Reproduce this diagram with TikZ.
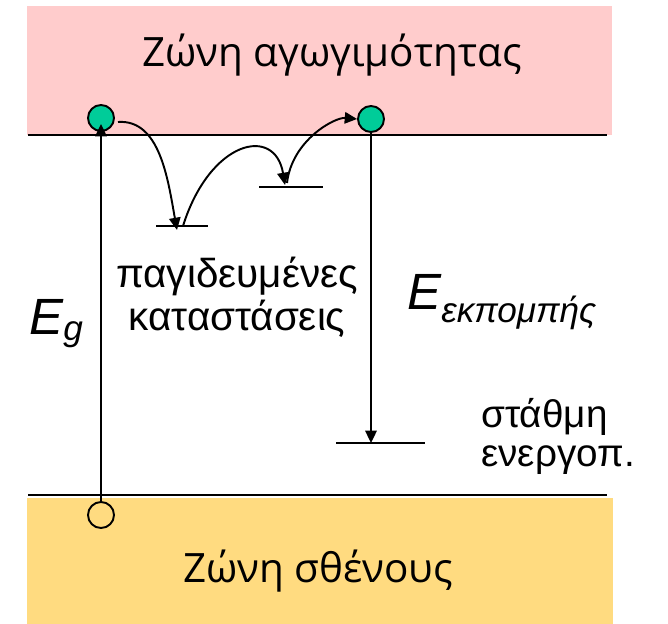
\documentclass[tikz,border=0pt]{standalone}
\usepackage{fontspec}
\setmainfont{Liberation Sans}
\newfontfamily\bandfont{Open Sans}
\usetikzlibrary{arrows.meta}

\definecolor{condpink}{RGB}{255,204,204}
\definecolor{valyellow}{RGB}{255,219,128}
\definecolor{elgreen}{RGB}{0,204,153}

\tikzset{
  edge/.style={line width=1.1pt},
  jump/.style={line width=1.1pt, -{Triangle[length=7pt,width=6.5pt]}},
  carrier/.style={circle, draw, line width=1.1pt, minimum size=0.52cm, inner sep=0pt},
  label/.style={inner sep=0pt, font=\fontsize{23}{24.4}\selectfont},
  bandlabel/.style={inner sep=0pt, anchor=base, font=\bandfont\fontsize{23}{27}\selectfont}
}

\begin{document}
\begin{tikzpicture}[x=0.02cm, y=-0.02cm]
    \useasboundingbox (0,0) rectangle (668,624);
    % zones
    \fill[condpink] (27,6) rectangle (612,135);
    \fill[valyellow] (27,498) rectangle (613,624);
    \draw[edge] (28,135) -- (607,135);
    \draw[edge] (28,495) -- (607,495);
    \node[bandlabel] (cband) at (332,67) {Ζώνη αγωγιμότητας};
    \node[bandlabel] (vband) at (318,582) {Ζώνη σθένους};
    % carriers
    \node[carrier, fill=elgreen] (el) at (101,118) {};
    \node[carrier, fill=elgreen] (em) at (371,119) {};
    \node[carrier] (hole) at (101,515) {};
    % levels
    \coordinate (trapA1) at (156,226);  \coordinate (trapA2) at (208,226);
    \coordinate (trapB1) at (259,187);  \coordinate (trapB2) at (323,187);
    \coordinate (act1) at (336,443);    \coordinate (act2) at (425,443);
    \draw[edge] (trapA1) -- (trapA2);
    \draw[edge] (trapB1) -- (trapB2);
    \draw[edge] (act1) -- (act2);
    % transitions
    \coordinate (egtip) at (101,124);
    \coordinate (actlev) at (371,443);
    \coordinate (out1) at (118,122);   \coordinate (in1) at (177,230);
    \coordinate (out2) at (183,226);   \coordinate (in2) at (285,185);
    \coordinate (out3) at (287,183);
    \draw[jump] (hole.north) -- (egtip);
    \draw[jump] (em.south) -- (actlev);
    \draw[jump] (out1) .. controls +(42,-3) and +(-9,-50) .. (in1);
    \draw[jump] (out2) .. controls +(27,-86) and +(-10,-60) .. (in2);
    \draw[jump] (out3) .. controls +(5,-43) and +(-22,-2) .. (em.west);
    % labels (base = last line)
    \node[label, anchor=base, align=center] (traps) at (237,330) {παγιδευμένες\\καταστάσεις};
    \node[label, anchor=base west, align=left, font=\fontsize{22}{22}\selectfont] (actlabel) at (481,466) {στάθμη\\ενεργοπ.};
    \node[label, anchor=base west, font=\itshape\fontsize{29}{32}\selectfont] (eg) at (29,335)
        {E\raisebox{-3pt}{\fontsize{20}{24}\selectfont g}};
    \node[label, anchor=base west, font=\itshape\fontsize{29}{32}\selectfont] (eem) at (407,310)
        {E\raisebox{-7pt}{\fontsize{20}{24}\selectfont εκπομπής}};
\end{tikzpicture}
\end{document}
